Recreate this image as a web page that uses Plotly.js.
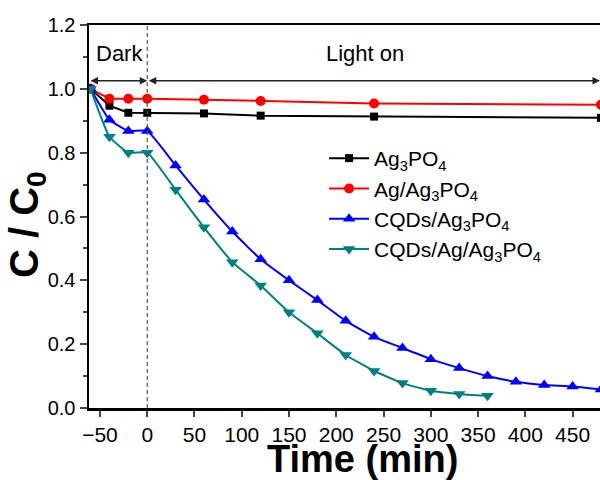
<!DOCTYPE html>
<html>
<head>
<meta charset="utf-8">
<script src="https://cdn.plot.ly/plotly-3.0.1.min.js"></script>
<style>html,body{margin:0;padding:0;background:#fff;}#chart{width:600px;height:480px;}</style>
</head>
<body>
<div id="chart"></div>
<script>
// Data
var timeShort = [-60, -40, -20, 0, 60, 120, 240, 480];
var ag3po4 = [1.0, 0.947, 0.925, 0.925, 0.923, 0.916, 0.913, 0.909];
var agAg3po4 = [1.0, 0.969, 0.969, 0.969, 0.966, 0.962, 0.954, 0.950];

var timeBlue = [-60, -40, -20, 0, 30, 60, 90, 120, 150, 180, 210, 240, 270, 300, 330, 360, 390, 420, 450, 480];
var cqdsAg3po4 = [1.0, 0.903, 0.868, 0.868, 0.760, 0.653, 0.553, 0.466, 0.400, 0.338, 0.273, 0.223, 0.188, 0.153, 0.125, 0.100, 0.082, 0.072, 0.067, 0.058];

var timeTeal = [-60, -40, -20, 0, 30, 60, 90, 120, 150, 180, 210, 240, 270, 300, 330, 360];
var cqdsAgAg3po4 = [1.0, 0.850, 0.800, 0.800, 0.684, 0.566, 0.457, 0.384, 0.300, 0.234, 0.166, 0.116, 0.078, 0.054, 0.044, 0.038];

var names = ['Ag<sub>3</sub>PO<sub>4</sub>', 'Ag/Ag<sub>3</sub>PO<sub>4</sub>', 'CQDs/Ag<sub>3</sub>PO<sub>4</sub>', 'CQDs/Ag/Ag<sub>3</sub>PO<sub>4</sub>'];
var xTicks = [-50, 0, 50, 100, 150, 200, 250, 300, 350, 400, 450];

var font = 'Arial, "Liberation Sans", sans-serif';

var traces = [
  {x: timeShort, y: ag3po4, name: names[0], legendgroup: 'a', mode: 'lines+markers',
   line: {color: '#000000', width: 2}, marker: {symbol: 'square', size: 8, color: '#000000'}},
  {x: timeShort, y: agAg3po4, name: names[1], legendgroup: 'b', mode: 'lines+markers',
   line: {color: '#ff0000', width: 2}, marker: {symbol: 'circle', size: 10, color: '#ff0000'}},
  {x: timeBlue, y: cqdsAg3po4, name: names[2], legendgroup: 'c', mode: 'lines+markers',
   line: {color: '#0000ff', width: 2, shape: 'spline', smoothing: 0.4}, marker: {symbol: 'triangle-up', size: 11, color: '#0000ff'}},
  {x: timeTeal, y: cqdsAgAg3po4, name: names[3], legendgroup: 'd', mode: 'lines+markers',
   line: {color: '#008080', width: 2, shape: 'spline', smoothing: 0.4}, marker: {symbol: 'triangle-down', size: 11, color: '#008080'}}
];

var layout = {
  width: 600, height: 480,
  margin: {l: 89, r: 0, t: 25, b: 72},
  paper_bgcolor: '#ffffff', plot_bgcolor: '#ffffff',
  font: {family: font, color: '#000000', size: 20},
  showlegend: true,
  legend: {x: 0.46, y: 0.705, xanchor: 'left', yanchor: 'top', font: {size: 21, family: font},
           bgcolor: 'rgba(0,0,0,0)', traceorder: 'grouped', tracegroupgap: 0, itemwidth: 40},
  xaxis: {range: [-61.6, 479], tickvals: xTicks, ticks: 'outside', ticklen: 6, tickwidth: 2,
          showline: true, linewidth: 2.5, linecolor: '#000', mirror: true, showgrid: false, zeroline: false,
          tickfont: {size: 21, family: font}},
  yaxis: {range: [0, 1.2], dtick: 0.2, tick0: 0, tickformat: '.1f', ticks: 'outside', ticklen: 7, tickwidth: 2,
          minor: {dtick: 0.1, ticks: 'outside', ticklen: 4, tickwidth: 2, showgrid: false},
          showline: true, linewidth: 2.5, linecolor: '#000', mirror: false, showgrid: false, zeroline: false,
          tickfont: {size: 20, family: font}},
  shapes: [
    {type: 'line', xref: 'x', yref: 'y', x0: 0, x1: 0, y0: 0, y1: 1.2,
     line: {color: '#555555', width: 1.2, dash: '4px,3px'}}
  ],
  annotations: [
    {xref: 'x', yref: 'y', x: 0, y: 1.025, ax: -61.6, ay: 1.025, axref: 'x', ayref: 'y', text: '',
     showarrow: true, arrowside: 'end+start', arrowhead: 2, arrowsize: 1, arrowwidth: 1.5, arrowcolor: '#222'},
    {xref: 'x', yref: 'y', x: 479, y: 1.025, ax: 0, ay: 1.025, axref: 'x', ayref: 'y', text: '',
     showarrow: true, arrowside: 'end+start', arrowhead: 2, arrowsize: 1, arrowwidth: 1.5, arrowcolor: '#222'},
    {xref: 'paper', yref: 'paper', x: (119 - 89) / 511, y: (408 - 53) / 383, text: 'Dark', showarrow: false,
     xanchor: 'center', yanchor: 'middle', font: {size: 22, family: font}},
    {xref: 'paper', yref: 'paper', x: (365 - 89) / 511, y: (408 - 53) / 383, text: 'Light on', showarrow: false,
     xanchor: 'center', yanchor: 'middle', font: {size: 22, family: font}},
    {xref: 'paper', yref: 'paper', x: (362 - 89) / 511, y: (408 - 459) / 383, text: '<b>Time (min)</b>', showarrow: false,
     xanchor: 'center', yanchor: 'middle', font: {size: 38, family: font}},
    {xref: 'paper', yref: 'paper', x: (27 - 89) / 511, y: (408 - 225) / 383, text: '<b>C / C<sub>0</sub></b>', showarrow: false,
     textangle: -90, xanchor: 'center', yanchor: 'middle', font: {size: 40, family: font}}
  ]
};

Plotly.newPlot('chart', traces, layout, {displayModeBar: false, staticPlot: true});
</script>
</body>
</html>
